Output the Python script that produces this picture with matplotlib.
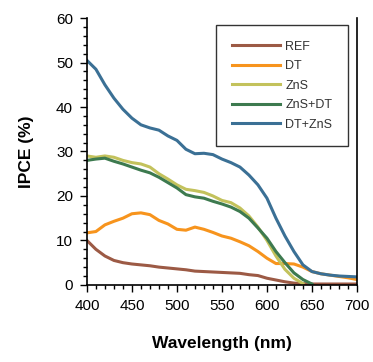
import numpy as np
import matplotlib.pyplot as plt
from matplotlib.ticker import MultipleLocator

plt.rcParams['font.family'] = ['Liberation Sans', 'DejaVu Sans']

wl = [400, 410, 420, 430, 440, 450, 460, 470, 480, 490, 500, 510, 520, 530, 540, 550,
      560, 570, 580, 590, 600, 610, 620, 630, 640, 650, 660, 670, 680, 690, 700]

ref = [10, 8, 6.5, 5.5, 5, 4.7, 4.5, 4.3, 4, 3.8, 3.6, 3.4, 3.1, 3, 2.9, 2.8,
       2.7, 2.6, 2.3, 2.1, 1.5, 1.1, 0.7, 0.4, 0.3, 0.2, 0.2, 0.2, 0.2, 0.2, 0.2]
dt = [11.7, 12, 13.5, 14.3, 15, 16, 16.2, 15.8, 14.5, 13.7, 12.5, 12.3, 13, 12.5, 11.8, 11,
      10.5, 9.7, 8.8, 7.5, 6, 4.8, 4.8, 4.7, 4, 3, 2.5, 2.2, 1.9, 1.6, 1.2]
zns = [29, 28.7, 29, 28.7, 28, 27.5, 27.2, 26.5, 25, 23.8, 22.5, 21.5, 21.2, 20.8, 20, 19,
       18.5, 17.3, 15.5, 13, 10, 6.5, 3.5, 1.5, 0.3]
zns_dt = [28, 28.3, 28.5, 27.8, 27.2, 26.5, 25.8, 25.2, 24.2, 23, 21.8, 20.3, 19.8, 19.5, 18.8, 18.2,
          17.5, 16.5, 15, 12.8, 10.5, 7.5, 5, 2.7, 1.2, 0.2]
dt_zns = [50.5, 48.5, 45, 42, 39.5, 37.5, 36, 35.3, 34.8, 33.5, 32.5, 30.5, 29.5, 29.6, 29.3, 28.3,
          27.5, 26.5, 24.7, 22.5, 19.5, 15, 11, 7.5, 4.5, 3, 2.5, 2.2, 2, 1.9, 1.8]

fig = plt.figure(figsize=(3.73, 3.62), dpi=100)
ax = fig.add_axes([0.233, 0.213, 0.724, 0.737])

ax.plot(wl, ref, color='#9c5a45', lw=2.2, label='REF')
ax.plot(wl, dt, color='#f7941d', lw=2.2, label='DT')
ax.plot(wl[:len(zns)], zns, color='#c3c25c', lw=2.2, label='ZnS')
ax.plot(wl[:len(zns_dt)], zns_dt, color='#3d7a4f', lw=2.2, label='ZnS+DT')
ax.plot(wl, dt_zns, color='#3b7095', lw=2.2, label='DT+ZnS')

ax.set_xlim(400, 700)
ax.set_ylim(0, 60)
ax.xaxis.set_major_locator(MultipleLocator(50))
ax.xaxis.set_minor_locator(MultipleLocator(10))
ax.yaxis.set_major_locator(MultipleLocator(10))
ax.yaxis.set_minor_locator(MultipleLocator(2))
ax.tick_params(which='both', direction='out', labelsize=11, width=1)
ax.tick_params(which='major', length=5, pad=5)
ax.tick_params(which='minor', length=3)
ax.spines['top'].set_visible(False)
for s in ['left', 'bottom', 'right']:
    ax.spines[s].set_linewidth(1.2)

ax.set_xlabel('Wavelength (nm)', fontsize=12.5, fontweight='bold', labelpad=17)
ax.set_ylabel('IPCE (%)', fontsize=12.5, fontweight='bold', labelpad=16)

leg = ax.legend(loc='upper right', bbox_to_anchor=(0.967, 0.974), borderaxespad=0,
                fontsize=9, frameon=True, fancybox=False, edgecolor='black',
                handlelength=3.9, labelspacing=0.6, borderpad=1.25, handletextpad=0.4)
leg.get_frame().set_linewidth(1.0)
for t in leg.get_texts():
    t.set_color('#333333')

fig.savefig('out.png', dpi=100)
